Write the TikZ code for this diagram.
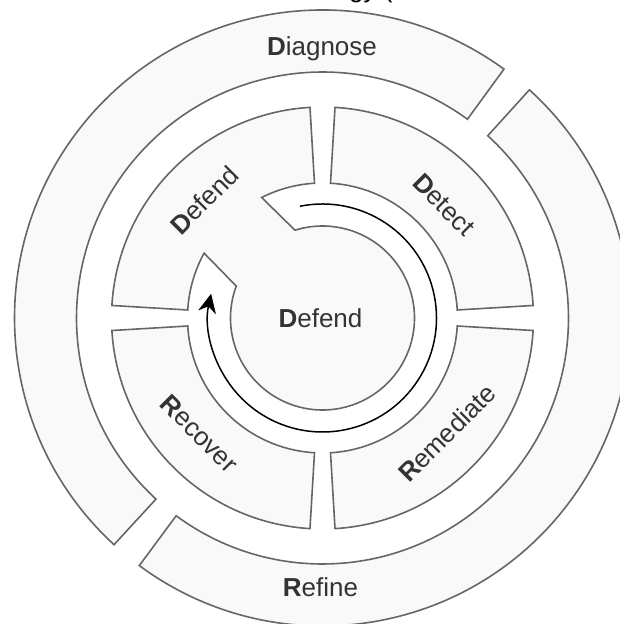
\documentclass[tikz,border=0pt]{standalone}
\usepackage{fontspec}
\setmainfont{Liberation Sans}
\usetikzlibrary{arrows.meta}
\definecolor{ringstroke}{HTML}{666666}
\definecolor{ringfill}{HTML}{F9F9F9}
\definecolor{labeltext}{HTML}{333333}
\tikzset{
  ring/.style={draw=ringstroke, fill=ringfill, line width=1.6pt, line join=miter},
  phase/.style={text=labeltext, font=\fontsize{26}{31}\selectfont, inner sep=0pt},
  cycle arrow/.style={draw=black, line width=1.5pt,
    -{Stealth[length=19pt, width=18pt, inset=6pt]}},
}
\newcommand{\initial}[2]{{\bfseries #1}#2}

\begin{document}
\begin{tikzpicture}[x=1pt, y=1pt]
\useasboundingbox (0,0) rectangle (619,624);

% title line above the wheel
\node[anchor=base west, font=\fontsize{26}{31}\selectfont, inner sep=0pt] (title) at (349,626.5) {gy (};

\begin{scope}[shift={(322.5,306)}]
  % outer ring: two halves
  \path[ring] (53.9:308pt) arc[start angle=53.9, end angle=227.4, radius=308pt]
    -- (227.4:246pt) arc[start angle=227.4, end angle=53.9, radius=246pt] -- cycle;
  \path[ring] (233.5:308pt) arc[start angle=233.5, end angle=407.8, radius=308pt]
    -- (407.8:246pt) arc[start angle=407.8, end angle=233.5, radius=246pt] -- cycle;

  % inner ring: four quarters
  \path[ring] (3.4:211pt) arc[start angle=3.4, end angle=86.6, radius=211pt]
    -- (86.6:135pt) arc[start angle=86.6, end angle=3.4, radius=135pt] -- cycle;
  \path[ring] (-86.6:211pt) arc[start angle=-86.6, end angle=-3.4, radius=211pt]
    -- (-3.4:135pt) arc[start angle=-3.4, end angle=-86.6, radius=135pt] -- cycle;
  \path[ring] (183.4:211pt) arc[start angle=183.4, end angle=266.6, radius=211pt]
    -- (266.6:135pt) arc[start angle=266.6, end angle=183.4, radius=135pt] -- cycle;
  % top-left quarter joined to the hub
  \path[ring] (93.4:211pt) arc[start angle=93.4, end angle=176.6, radius=211pt]
    -- (176.6:135pt) arc[start angle=176.6, end angle=151.3, radius=135pt]
    -- (159.7:92pt) arc[start angle=159.7, end angle=467.4, radius=92pt]
    -- (116.8:135pt) arc[start angle=116.8, end angle=93.4, radius=135pt] -- cycle;

  % cycle arrow in the channel
  \coordinate (arrowstart) at (101.4:114pt);
  \draw[cycle arrow] (arrowstart) arc[start angle=101.4, end angle=-192.3, radius=114pt];

  % labels
  \node[phase, anchor=base] (diagnose) at (-0.5,262) {\initial{D}{iagnose}};
  \node[phase, anchor=base] (refine) at (-2,-278.7) {\initial{R}{efine}};
  \node[phase, anchor=base] (hub) at (-2,-10) {\initial{D}{efend}};
  \node[phase, rotate=45] (defend) at (135:167pt) {\initial{D}{efend}};
  \node[phase, rotate=-45] (detect) at (43:166pt) {\initial{D}{etect}};
  \node[phase, rotate=45] (remediate) at (-42.7:169.5pt) {\initial{R}{emediate}};
  \node[phase, rotate=-45] (recover) at (-136.8:169pt) {\initial{R}{ecover}};
\end{scope}
\end{tikzpicture}
\end{document}
